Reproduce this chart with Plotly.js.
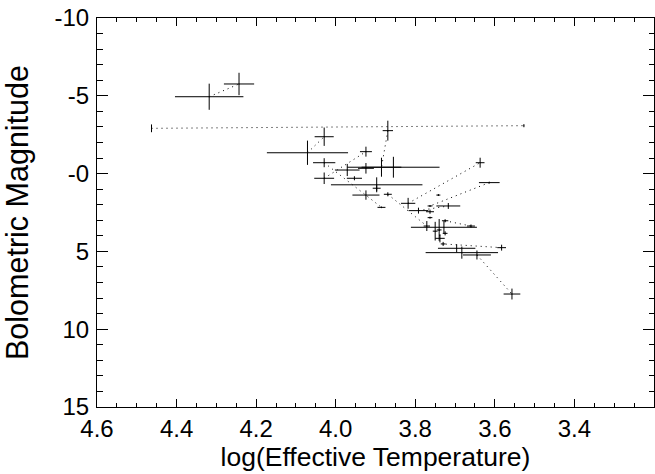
<!DOCTYPE html>
<html>
<head>
<meta charset="utf-8">
<script src="https://cdn.plot.ly/plotly-3.0.1.min.js"></script>
<style>html,body{margin:0;padding:0;background:#fff;}#chart{width:655px;height:474px;}</style>
</head>
<body>
<div id="chart"></div>
<script>
// Star data: log(Teff), Mbol, and their errors
const logT = [4.318, 4.243, 4.463, 3.527, 3.869, 4.029, 4.071, 3.924, 4.029, 4.029,
              3.971, 3.924, 3.885, 3.855, 3.953, 3.897, 3.897, 3.924, 3.869, 3.885,
              3.818, 3.637, 3.614, 3.763, 3.742, 3.717, 3.792, 3.763, 3.763, 3.725,
              3.771, 3.740, 3.728, 3.660, 3.725, 3.738, 3.583, 3.730, 3.696, 3.683,
              3.645, 3.557, 3.750];
const mbol = [-4.94, -5.76, -2.91, -3.08, -2.76, -2.37, -1.34, -1.41, -0.70, 0.30,
              -0.23, -0.34, -0.41, -0.41, 0.30, 0.72, 0.94, 1.38, 1.33, 2.17,
              1.91, -0.70, 0.58, 2.08, 1.38, 2.08, 2.38, 2.45, 2.83, 3.03,
              3.37, 3.62, 3.45, 3.37, 3.84, 4.16, 4.76, 4.52, 4.80, 5.08,
              5.23, 7.74, 3.70];
const errT = [0.086, 0.038, 0.000, 0.000, 0.013, 0.024, 0.102, 0.015, 0.028, 0.025,
              0.031, 0.020, 0.050, 0.116, 0.019, 0.115, 0.010, 0.034, 0.010, 0.010,
              0.018, 0.011, 0.026, 0.006, 0.005, 0.030, 0.025, 0.010, 0.006, 0.008,
              0.008, 0.006, 0.083, 0.010, 0.006, 0.012, 0.011, 0.006, 0.047, 0.091,
              0.035, 0.021, 0.006];
const errM = [0.84, 0.72, 0.25, 0.10, 0.64, 0.59, 0.78, 0.32, 0.29, 0.37,
              0.39, 0.34, 0.61, 0.67, 0.13, 0.48, 0.19, 0.30, 0.13, 0.05,
              0.35, 0.32, 0.06, 0.06, 0.06, 0.19, 0.19, 0.13, 0.06, 0.10,
              0.32, 0.70, 0.40, 0.10, 0.13, 0.26, 0.19, 0.13, 0.26, 0.39,
              0.29, 0.35, 0.60];
// Connected pairs (binary components), by index
const pairA = [0, 2, 4, 6, 9, 8, 18, 20, 22, 29, 36, 40, 31, 26];
const pairB = [1, 3, 12, 5, 7, 19, 30, 21, 23, 33, 37, 41, 35, 25];

const xTickVals = [4.6, 4.4, 4.2, 4.0, 3.8, 3.6, 3.4];
const yTickVals = [-10, -5, 0, 5, 10, 15];
const yTickText = ['-10', '-5', '-0', '5', '10', '15'];

const traces = [];
for (let k = 0; k < pairA.length; k++) {
  const a = pairA[k], b = pairB[k];
  traces.push({
    x: [logT[a], logT[b]], y: [mbol[a], mbol[b]],
    mode: 'lines', type: 'scatter', hoverinfo: 'skip',
    line: {color: '#000', width: 1, dash: '1px,4px'}
  });
}
traces.push({
  x: logT, y: mbol, type: 'scatter', mode: 'markers',
  marker: {size: 1, color: '#000'},
  error_x: {type: 'data', array: errT, visible: true, color: '#000', thickness: 1, width: 0},
  error_y: {type: 'data', array: errM, visible: true, color: '#000', thickness: 1, width: 0}
});

const fam = 'Liberation Sans, Arial, sans-serif';
const tickFont = {family: fam, size: 24, color: '#000'};
const layout = {
  width: 655, height: 474,
  margin: {l: 97, r: 1, t: 18, b: 67},
  paper_bgcolor: '#fff', plot_bgcolor: '#fff',
  showlegend: false,
  font: tickFont,
  xaxis: {
    range: [4.6, 3.2], tickvals: xTickVals, tickformat: '.1f',
    ticks: 'inside', ticklen: 8, tickcolor: '#000', tickwidth: 1,
    minor: {dtick: 0.05, ticks: 'inside', ticklen: 4, tickcolor: '#000', tickwidth: 1, showgrid: false},
    showline: true, linecolor: '#000', linewidth: 1, mirror: 'allticks',
    showgrid: false, zeroline: false, tickfont: tickFont,
    title: {text: 'log(Effective Temperature)', font: {family: fam, size: 26.5, color: '#000'}, standoff: 3}
  },
  yaxis: {
    range: [15, -10], tickvals: yTickVals, ticktext: yTickText,
    ticks: 'inside', ticklen: 11, tickcolor: '#000', tickwidth: 1,
    minor: {dtick: 1, ticks: 'inside', ticklen: 5.5, tickcolor: '#000', tickwidth: 1, showgrid: false},
    showline: true, linecolor: '#000', linewidth: 1, mirror: 'allticks',
    showgrid: false, zeroline: false, tickfont: tickFont, ticklabelstandoff: 2,
    title: {text: 'Bolometric Magnitude', font: {family: fam, size: 30.5, color: '#000'}, standoff: 17}
  }
};
Plotly.newPlot('chart', traces, layout, {staticPlot: true, displayModeBar: false});
</script>
</body>
</html>
